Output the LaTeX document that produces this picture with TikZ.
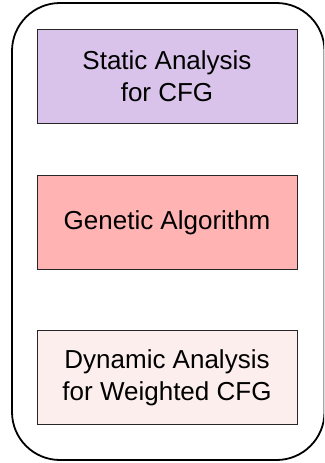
\documentclass[tikz,border=0pt]{standalone}
\usepackage{fontspec}
\setmainfont{Liberation Sans}
\definecolor{boxA}{HTML}{D9C3EB}
\definecolor{boxB}{HTML}{FFB3B3}
\definecolor{boxC}{HTML}{FDEEEE}
\begin{document}
\begin{tikzpicture}[x=1pt,y=-1pt,
  stage/.style={draw=black!85,line width=0.9pt,minimum width=260pt,minimum height=94pt,
    align=center,font=\fontsize{26}{32}\selectfont,inner sep=0pt}]
\useasboundingbox (0,0) rectangle (324,463);
\begin{scope}
\clip (0,0) rectangle (324,463);
\draw[line width=1.8pt,rounded corners=48pt] (12,3) rectangle (324.5,460);
\end{scope}
\node[stage,fill=boxA] (s) at (167,76.5) {Static Analysis\\for CFG};
\node[stage,fill=boxB] (g) at (167,222.5) {Genetic Algorithm};
\node[stage,fill=boxC] (d) at (167,377.5) {Dynamic Analysis\\for Weighted CFG};
\end{tikzpicture}
\end{document}
